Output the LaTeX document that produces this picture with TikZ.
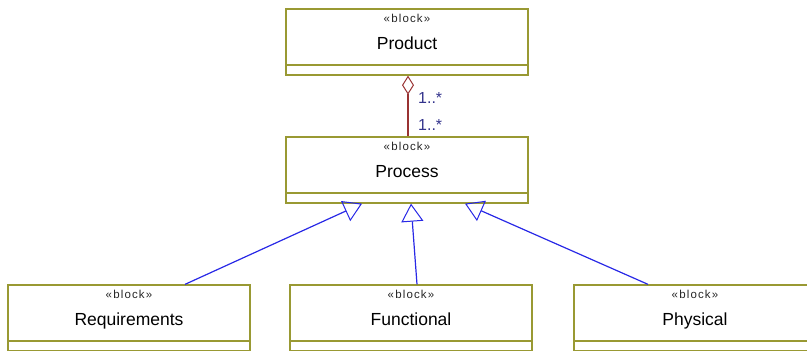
\documentclass[tikz,border=0pt]{standalone}
\usepackage{fontspec}
\setmainfont{Liberation Sans}
\usetikzlibrary{arrows.meta}
\definecolor{boxc}{RGB}{153,153,51}
\definecolor{aggc}{RGB}{153,51,51}
\definecolor{genc}{RGB}{40,40,230}
\definecolor{multc}{RGB}{51,51,140}
\tikzset{
  block/.style={draw=boxc, line width=1.3pt, minimum width=242pt, minimum height=66pt, inner sep=0pt,
    path picture={\draw[boxc,line width=1.3pt] ([yshift=10pt]path picture bounding box.south west) -- ([yshift=10pt]path picture bounding box.south east);}},
  stereo/.style={font=\fontsize{11.5}{12}\selectfont\addfontfeature{LetterSpace=10}, text=black!85, inner sep=0pt, anchor=base},
  bname/.style={font=\fontsize{17.5}{19}\selectfont, inner sep=0pt, anchor=base},
  mult/.style={font=\fontsize{16}{18}\selectfont, text=multc, inner sep=0pt, anchor=base west},
  agg/.style={draw=aggc, line width=1.2pt, {Diamond[open,length=19pt,width=12pt,line width=1pt]}-},
  gen/.style={draw=genc, line width=1.2pt, -{Triangle[open,length=18pt,width=22pt,line width=1pt]}}
}
\begin{document}
\begin{tikzpicture}[x=1pt,y=-1pt]
  \useasboundingbox (0,0) rectangle (807,351);
  \clip (0,0) rectangle (807,351);
  % Blocks
  \node[block] (prod) at (407,42) {};
  \node[stereo] (prods) at ([yshift=-14pt]prod.north) {«block»};
  \node[bname] (prodn) at ([yshift=-41pt]prod.north) {Product};

  \node[block] (proc) at (407,170) {};
  \node[stereo] (procs) at ([yshift=-14pt]proc.north) {«block»};
  \node[bname] (procn) at ([yshift=-41pt]proc.north) {Process};

  \node[block] (req) at (129,318) {};
  \node[stereo] (reqs) at ([yshift=-14pt]req.north) {«block»};
  \node[bname] (reqn) at ([yshift=-41pt]req.north) {Requirements};

  \node[block] (func) at (411,318) {};
  \node[stereo] (funcs) at ([yshift=-14pt]func.north) {«block»};
  \node[bname] (funcn) at ([yshift=-41pt]func.north) {Functional};

  \node[block] (phys) at (695,318) {};
  \node[stereo] (physs) at ([yshift=-14pt]phys.north) {«block»};
  \node[bname] (physn) at ([yshift=-41pt]phys.north) {Physical};

  % Aggregation
  \draw[agg] ([xshift=1pt]prod.south) -- ([xshift=1pt]proc.north);
  \node[mult] (m1) at (418,103) {1..*};
  \node[mult] (m2) at (418,130) {1..*};

  % Generalizations
  \draw[gen] ([xshift=56pt]req.north) -- ([xshift=-45pt]proc.south);
  \draw[gen] ([xshift=6pt]func.north) -- ([xshift=4pt]proc.south);
  \draw[gen] ([xshift=-47pt]phys.north) -- ([xshift=58pt]proc.south);
\end{tikzpicture}
\end{document}
